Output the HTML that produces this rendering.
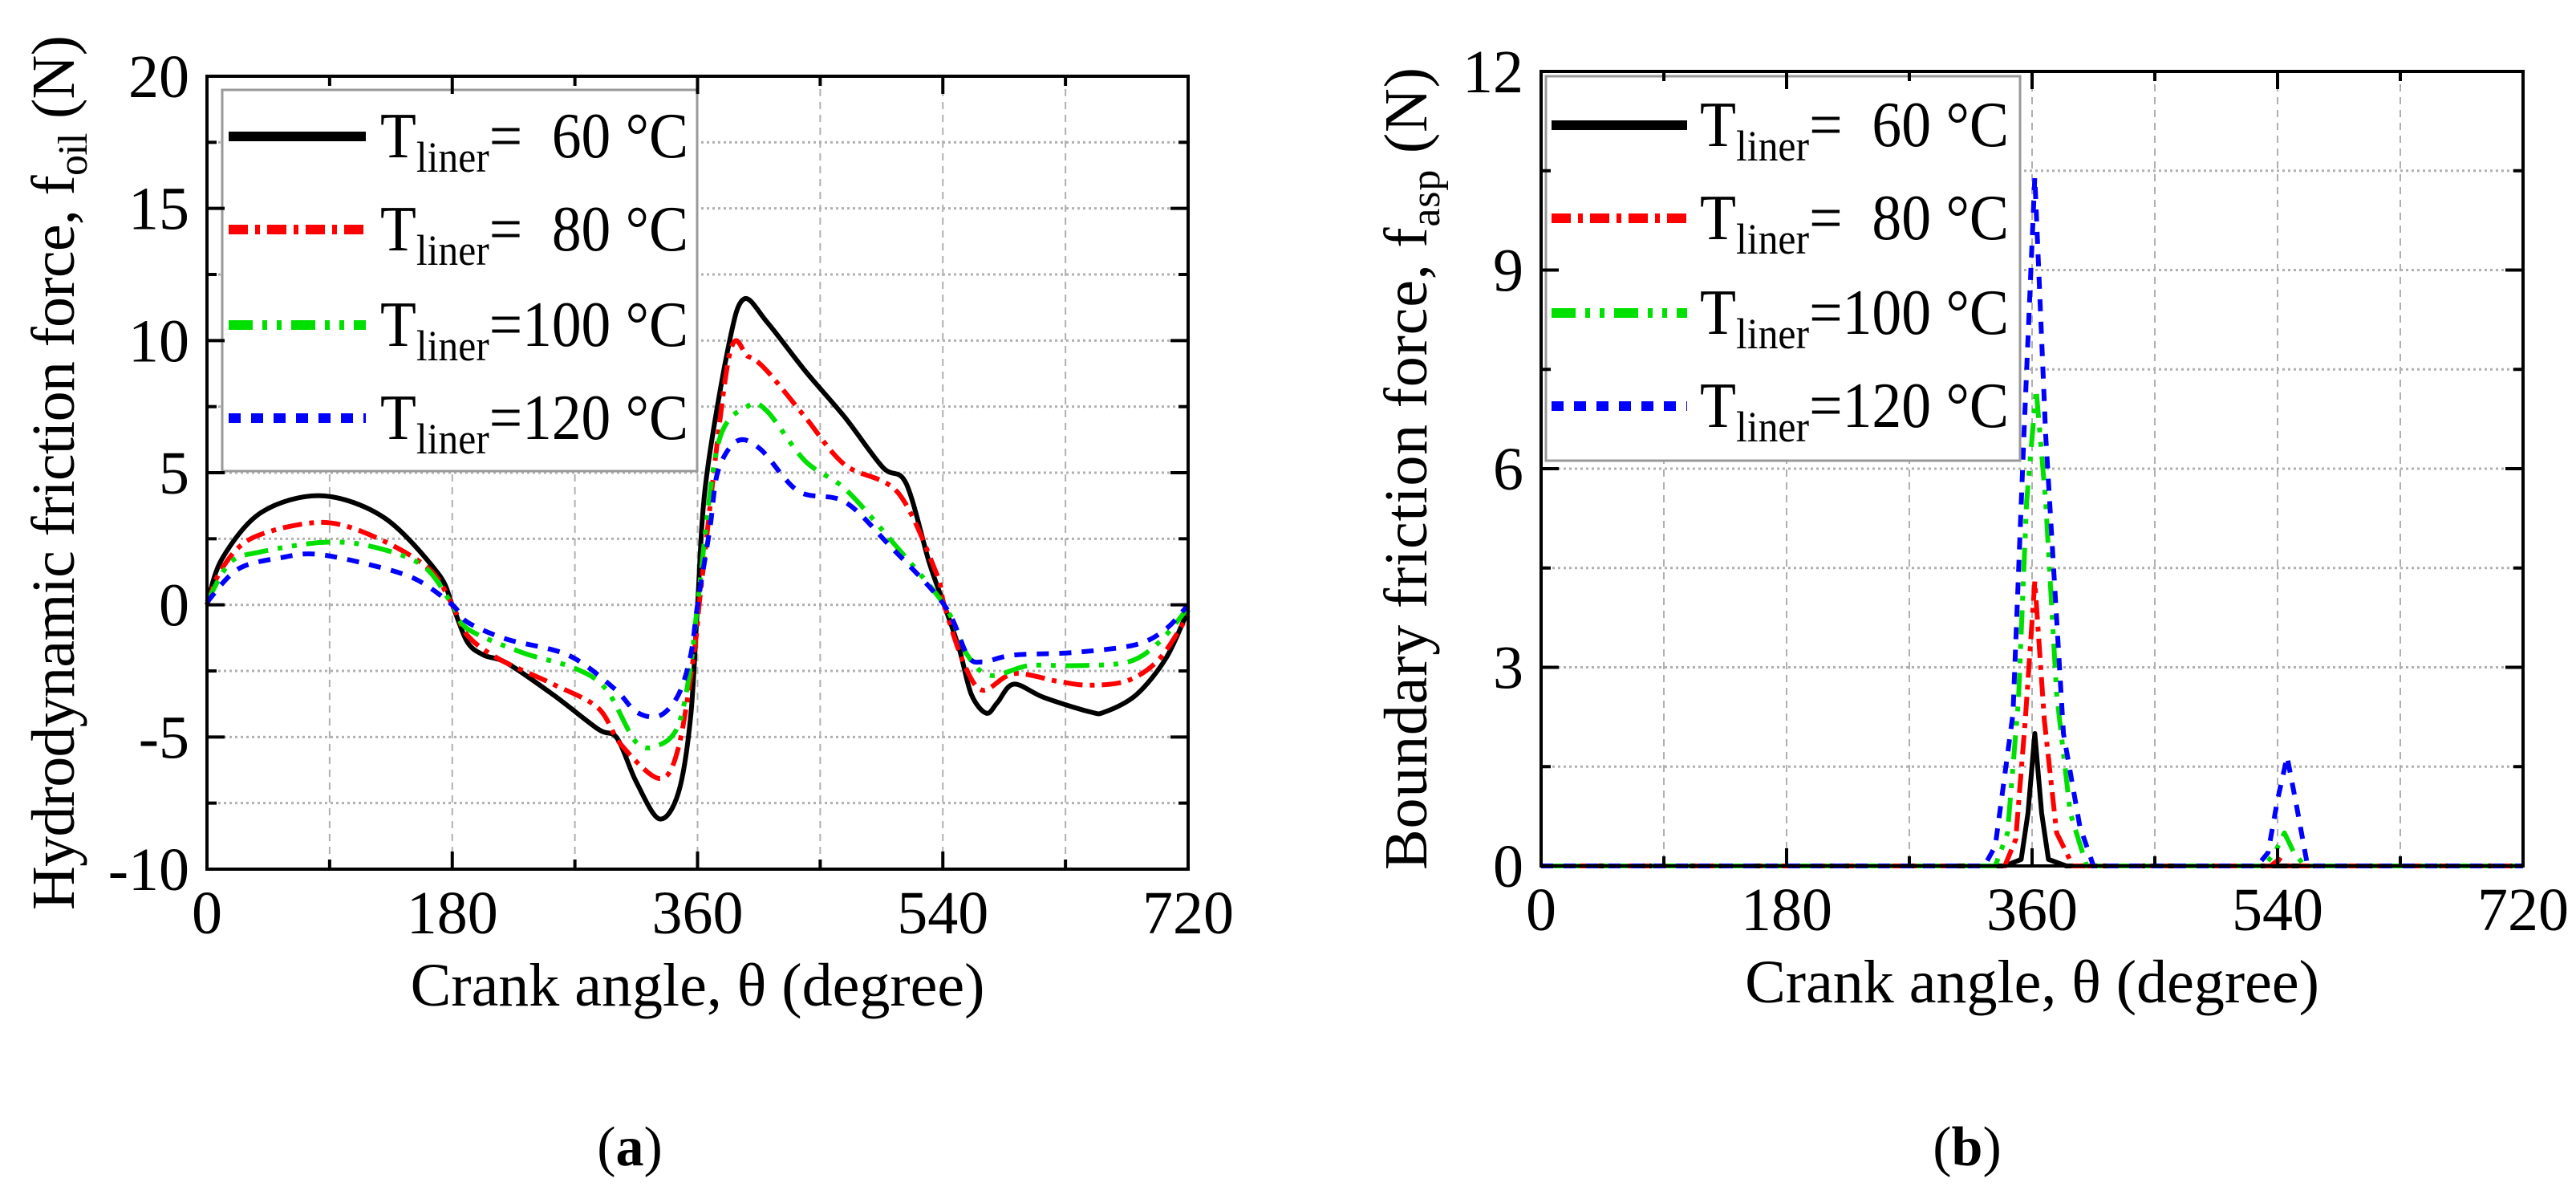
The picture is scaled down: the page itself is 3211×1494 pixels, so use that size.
<!DOCTYPE html>
<html><head><meta charset="utf-8">
<style>
html,body{margin:0;padding:0;background:#fff;}
svg, svg text{font-family:"Liberation Serif","Times New Roman","DejaVu Serif",serif;}
</style></head>
<body>
<svg id="fig" width="3211" height="1489" viewBox="0 0 3211 1489" xmlns="http://www.w3.org/2000/svg" font-family="Liberation Serif, serif">
<rect x="0" y="0" width="3211" height="1489" fill="#fff"/>
<g id="pa"></g>
<g id="pb"></g>
<text x="785" y="1452" font-size="70" font-family="Liberation Serif, serif" text-anchor="middle">(<tspan font-weight="bold">a</tspan>)</text>
<text x="2452" y="1452" font-size="70" font-family="Liberation Serif, serif" text-anchor="middle">(<tspan font-weight="bold">b</tspan>)</text>
</svg>
<script>
// ---- data: panel (a) hydrodynamic friction force ----
const aX60 = [0,11,40,84,130,169,180,191,203,220,254,287,301,315,332,346,355,360,366,383,394,411,439,468,496,513,530,541,552,561,572,580,592,614,648,659,682,704,720];
const aY60 = [0,1.74,3.5,4.13,3.3,1.23,0,-1.4,-1.9,-2.2,-3.4,-4.7,-5.05,-6.7,-8.1,-7.1,-4.2,0,4.6,9.86,11.57,10.7,8.85,7.1,5.2,4.6,1.6,0,-1.66,-3.4,-4.1,-3.7,-3.0,-3.5,-4.05,-4.05,-3.4,-2.0,-0.2];
const aX80 = [0,11,34,84,124,163,180,191,214,254,287,304,332,346,358,363,383,397,411,439,468,507,535,541,555,569,592,625,648,676,699,720];
const aY80 = [0,1.38,2.55,3.12,2.55,1.36,0,-1.15,-2.04,-3.0,-3.9,-5.3,-6.57,-5.4,-1.6,0.85,9.36,9.4,8.85,7.1,5.3,4.25,1.23,0,-2.16,-3.23,-2.6,-2.9,-3.04,-2.86,-2.04,-0.4];
const aX100 = [0,17,39,84,118,158,180,191,231,270,293,315,332,346,355,360,375,397,411,439,468,501,541,558,575,603,637,676,699,720];
const aY100 = [0.1,1.6,2.0,2.36,2.24,1.5,0,-0.9,-1.8,-2.4,-3.2,-5.2,-5.3,-4.55,-2.3,0,6.07,7.52,7.33,5.44,4.4,2.5,0,-1.9,-2.67,-2.3,-2.3,-2.16,-1.4,-0.1];
const aX120 = [0,23,56,79,113,152,180,191,220,265,299,315,332,346,355,360,369,375,389,406,434,468,501,541,558,569,592,637,682,704,720];
const aY120 = [0.1,1.36,1.8,1.92,1.6,1.0,0,-0.65,-1.3,-1.9,-3.17,-4.05,-4.2,-3.4,-1.9,0,2.87,5.06,6.2,5.9,4.3,3.9,2.24,0,-1.9,-2.16,-1.9,-1.8,-1.5,-0.9,0];
const aYTicks = [-10,-5,0,5,10,15,20];
const xTicks = [0,180,360,540,720];
// ---- data: panel (b) boundary friction force ----
const bX60 = [0,340,352,357,362,367,372,385,720];
const bY60 = [0,0,0.1,0.8,2.0,0.8,0.1,0,0];
const bX80 = [0,340,348,355,362,369,378,390,535,541,548,720];
const bY80 = [0,0,0.4,2.2,4.3,2.2,0.5,0,0,0.1,0,0];
const bX100 = [0,333,342,350,356,363,370,378,388,400,530,538,545,552,560,720];
const bY100 = [0,0,0.5,2.5,5.5,7.2,5.5,2.6,0.8,0,0,0.2,0.5,0.2,0,0];
const bX120 = [0,325,333,346,354,362,370,383,395,405,525,533,540,547,554,562,720];
const bY120 = [0,0,0.3,2.3,6.5,10.4,6.5,2.0,0.6,0,0,0.2,1.0,1.65,0.9,0,0];
const bYTicks = [0,3,6,9,12];
const legendLabels = ["=\u00a0\u00a060 °C","=\u00a0\u00a080 °C","=100 °C","=120 °C"];

const NS = "http://www.w3.org/2000/svg";
const FF = "Liberation Serif, serif";
function mk(parent, tag, attrs){ const e=document.createElementNS(NS,tag); for(const k in attrs) e.setAttribute(k,attrs[k]); parent.appendChild(e); return e; }

const styles = [
  {c:"#000", d:"none", w:6, n:"60"},
  {c:"#ff0000", d:"24,9,6,9", w:6, n:"80"},
  {c:"#00e000", d:"30,12,6,12,6,12", w:6, n:"100"},
  {c:"#0000ff", d:"15,13", w:6, n:"120"}
];

function smoothPath(P, smooth){
  let d="M"+P[0][0].toFixed(1)+","+P[0][1].toFixed(1);
  for(let i=0;i<P.length-1;i++){
    const p0=P[Math.max(0,i-1)],p1=P[i],p2=P[i+1],p3=P[Math.min(P.length-1,i+2)];
    if(!smooth){ d+=" L"+p2[0].toFixed(1)+","+p2[1].toFixed(1); continue; }
    const t=0.16;
    const c1x=p1[0]+(p2[0]-p0[0])*t, c1y=p1[1]+(p2[1]-p0[1])*t;
    const c2x=p2[0]-(p3[0]-p1[0])*t, c2y=p2[1]-(p3[1]-p1[1])*t;
    d+=" C"+c1x.toFixed(1)+","+c1y.toFixed(1)+" "+c2x.toFixed(1)+","+c2y.toFixed(1)+" "+p2[0].toFixed(1)+","+p2[1].toFixed(1);
  }
  return d;
}

function panel(g, o){
  const sx = v => o.L + (v-0)/(720)*(o.R-o.L);
  const sy = v => o.B - (v-o.ymin)/(o.ymax-o.ymin)*(o.B-o.T);
  for(let v=90; v<720; v+=90){
    const l=mk(g,"line",{x1:sx(v),x2:sx(v),y1:o.T,y2:o.B,stroke:"#b0b0b0","stroke-width":2,"stroke-dasharray":"9,7"});
    
    
  }
  for(let v=o.ymin+o.gstep; v<o.ymax-1e-9; v+=o.gstep){
    const l=mk(g,"line",{x1:o.L,x2:o.R,y1:sy(v),y2:sy(v),stroke:"#b0b0b0","stroke-width":3,"stroke-dasharray":"3,4"});
    
    
  }
  o.series.forEach((s,i)=>{
    const st=styles[i];
    const P=s[0].map((x,j)=>[sx(x),sy(s[1][j])]);
    const p=mk(g,"path",{d:smoothPath(P,o.smooth),fill:"none",stroke:st.c,"stroke-width":st.w,"stroke-dasharray":st.d,"stroke-linejoin":"round"});
    
    
  });
  const lb=mk(g,"rect",{x:o.lg.x,y:o.lg.y,width:o.lg.w,height:o.lg.h,fill:"#fff",stroke:"#999","stroke-width":3});
  
  
  o.lg.rows.forEach((ry,i)=>{
    const st=styles[i];
    const ln=mk(g,"line",{x1:o.lg.lx1,x2:o.lg.lx2,y1:ry,y2:ry,stroke:st.c,"stroke-width":12,"stroke-dasharray":st.d});
    
    
    const t=mk(g,"text",{x:o.lg.tx,y:ry+26,"font-size":80,"font-family":FF,textLength:o.lg.tl,lengthAdjust:"spacingAndGlyphs"});
    
    
    const a=mk(t,"tspan",{}); a.textContent="T";
    const b=mk(t,"tspan",{"font-size":54,dy:18}); b.textContent="liner";
    const c=mk(t,"tspan",{dy:-18}); c.textContent=legendLabels[i];
  });
  const fr=mk(g,"rect",{x:o.L,y:o.T,width:o.R-o.L,height:o.B-o.T,fill:"none",stroke:"#000","stroke-width":4});
  
  
  for(let v=0; v<=720; v+=90){
    const len = v%180===0?22:12;
    mk(g,"line",{x1:sx(v),x2:sx(v),y1:o.B,y2:o.B-len,stroke:"#000","stroke-width":4});
    mk(g,"line",{x1:sx(v),x2:sx(v),y1:o.T,y2:o.T+len,stroke:"#000","stroke-width":4});
  }
  xTicks.forEach(v=>{
    const t=mk(g,"text",{x:sx(v),y:o.B+80,"font-size":76,"font-family":FF,"text-anchor":"middle"});
    t.textContent=v;
    
    
  });
  for(let v=o.ymin; v<=o.ymax+1e-9; v+=o.gstep){
    const major = o.yticks.some(t=>Math.abs(t-v)<1e-9);
    const len = major?22:12;
    mk(g,"line",{x1:o.L,x2:o.L+len,y1:sy(v),y2:sy(v),stroke:"#000","stroke-width":4});
    mk(g,"line",{x1:o.R,x2:o.R-len,y1:sy(v),y2:sy(v),stroke:"#000","stroke-width":4});
  }
  o.yticks.forEach(v=>{
    const t=mk(g,"text",{x:o.L-22,y:sy(v)+26,"font-size":76,"font-family":FF,"text-anchor":"end"});
    t.textContent=v;
    
    
  });
  const xt=mk(g,"text",{x:(o.L+o.R)/2,y:o.B+170,"font-size":76,"font-family":FF,"text-anchor":"middle"});
  xt.textContent="Crank angle, θ (degree)";
  
  
  const yt=mk(g,"text",{x:0,y:0,"font-size":76,"font-family":FF,"text-anchor":"middle",transform:"translate("+o.ytx+","+((o.T+o.B)/2)+") rotate(-90)",textLength:o.ytl,lengthAdjust:"spacing"});
  
  
  const y1=mk(yt,"tspan",{}); y1.textContent=o.ytitle+", f";
  const y2=mk(yt,"tspan",{"font-size":52,dy:16}); y2.textContent=o.ysub;
  const y3=mk(yt,"tspan",{dy:-16}); y3.textContent=" (N)";
}

panel(document.getElementById("pa"),{
  L:258,R:1481,T:95,B:1083,ymin:-10,ymax:20,gstep:2.5,yticks:aYTicks,smooth:true,
  series:[[aX60,aY60],[aX80,aY80],[aX100,aY100],[aX120,aY120]],
  lg:{x:277,y:112,w:592,h:475,lx1:285,lx2:456,tx:474,tl:384,rows:[170,286,405,521]},
  ytitle:"Hydrodynamic friction force",ysub:"oil",ytx:92,ytl:1090
});
panel(document.getElementById("pb"),{
  L:1921,R:3145,T:89,B:1079,ymin:0,ymax:12,gstep:1.5,yticks:bYTicks,smooth:false,
  series:[[bX60,bY60],[bX80,bY80],[bX100,bY100],[bX120,bY120]],
  lg:{x:1927,y:95,w:591,h:479,lx1:1934,lx2:2103,tx:2119,tl:385,rows:[156,272,390,506]},
  ytitle:"Boundary friction force",ysub:"asp",ytx:1778,ytl:1000
});
</script>
</body></html>
